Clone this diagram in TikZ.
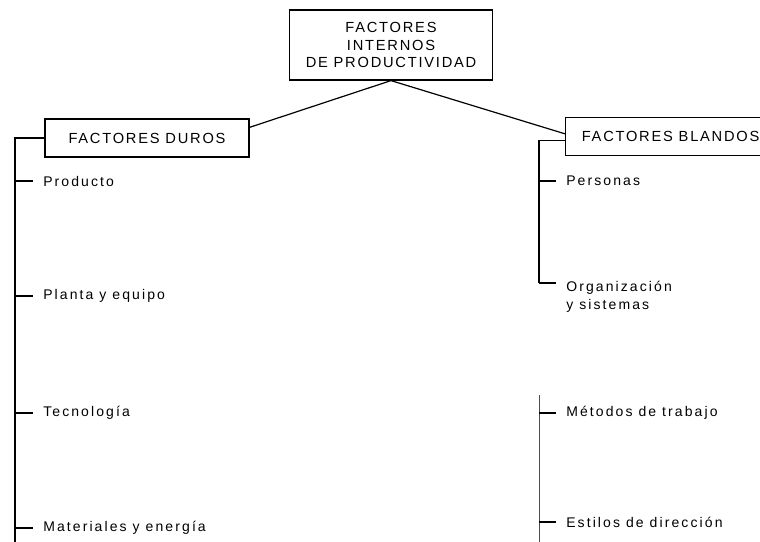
\documentclass[tikz,border=0pt]{standalone}
\usepackage{fontspec}
\setmainfont{Liberation Sans}
\usetikzlibrary{positioning}

\begin{document}
\begin{tikzpicture}[
      x=0.75pt, y=-0.75pt,
      box/.style = {draw, line width=0.9pt, inner sep=0pt, align=center,
                    font=\fontsize{11}{13}\selectfont\addfontfeature{LetterSpace=12}},
      item/.style = {anchor=west, inner xsep=7.5pt, inner ysep=0pt, align=left,
                     font=\fontsize{10.5}{13.5}\selectfont\addfontfeature{LetterSpace=15}},
      trunk/.style = {line width=1.2pt},
      thin/.style = {line width=0.5pt, black!70},
      tick/.style = {line width=0.8pt},
    ]
    \useasboundingbox (0,0) rectangle (760,542);

    \node[box, minimum width=152pt, minimum height=52.5pt] (top) at (391,45)
      {FACTORES\\INTERNOS\\DE PRODUCTIVIDAD};
    \node[box, minimum width=153pt, minimum height=28.5pt] (duros) at (147,138)
      {FACTORES DUROS};
    \node[box, minimum width=157.5pt, minimum height=28pt, anchor=west] (blandos)
      at (565,136.5) {FACTORES BLANDOS};

    \draw[line width=0.9pt] (top.south) -- ([yshift=8pt]duros.east);
    \draw[line width=0.9pt] (top.south) -- ([yshift=2pt]blandos.west);

    % hard factors
    \coordinate (ltop) at (15,138);
    \coordinate (lend) at (15,542);
    \draw[trunk] (duros.west) -- (ltop) -- (lend);
    \node[item] (prod) at (33,181) {Producto};
    \node[item] (planta) at (33,296) {Planta y equipo};
    \node[item] (tecno) at (33,413) {Tecnología};
    \node[item] (mater) at (33,528) {Materiales y energía};
    \foreach \n in {prod, planta, tecno, mater}
      \draw[tick] (\n.west -| ltop) -- (\n.west);

    % soft factors
    \coordinate (rmid) at (539,283);
    \coordinate (rlow) at (539,395);
    \coordinate (rend) at (539,542);
    \draw[trunk] ([yshift=-3pt]blandos.west) -| (rmid);
    \draw[thin] (rlow) -- (rend);
    \node[item] (pers) at (556,181) {Personas};
    \node[item] (org) at (556,297) {Organización\\y sistemas};
    \node[item] (metod) at (556,413) {Métodos de trabajo};
    \node[item] (estil) at (556,522) {Estilos de dirección};
    \draw[tick] (pers.west -| rmid) -- (pers.west);
    \draw[tick] (rmid) -- (rmid -| org.west);
    \draw[tick] (metod.west -| rmid) -- (metod.west);
    \draw[tick] (estil.west -| rmid) -- (estil.west);
  \end{tikzpicture}
\end{document}
